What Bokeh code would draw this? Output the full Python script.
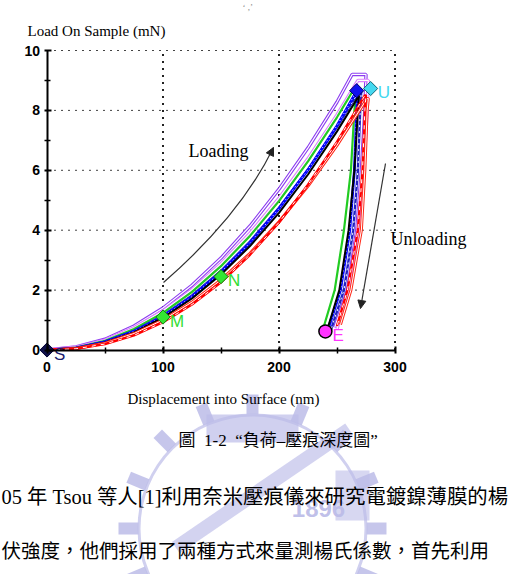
import numpy as np
from bokeh.plotting import figure
from bokeh.models import Range1d, LinearAxis, FixedTicker, Arrow, NormalHead
from bokeh.core.properties import value
from bokeh.embed import file_html
from bokeh.resources import INLINE

# ---------------- data ----------------
x_ticks = [0, 100, 200, 300]
x_minor = [50, 150, 250]
y_ticks = [0, 2, 4, 6, 8, 10]
y_minor = [1, 3, 5, 7, 9]
x_grid = [100, 200, 300]
y_grid = [2, 4, 6, 8, 10]
x_lim = (0, 300)
y_lim = (0, 10)

# load-displacement curves (loading, hold, unloading)
purple_h = [0, 25, 50, 75, 100, 125, 150, 175, 200, 225, 250, 263, 275, 274, 271, 267, 259, 248]
purple_p = [0, 0.10, 0.36, 0.80, 1.40, 2.16, 3.07, 4.14, 5.37, 6.75, 8.28, 9.20, 9.20, 8.0, 6.0, 4.0, 2.0, 0.75]
pink_h = [0, 25, 50, 75, 100, 125, 150, 175, 200, 225, 250, 268, 277, 276, 273, 268, 260, 250]
pink_p = [0, 0.09, 0.33, 0.74, 1.30, 2.01, 2.88, 3.90, 5.07, 6.39, 7.85, 9.00, 9.00, 8.0, 6.0, 4.0, 2.0, 0.70]
green_h = [0, 25, 50, 75, 100, 125, 150, 175, 200, 225, 250, 266, 267, 265, 262, 256, 248, 238]
green_p = [0, 0.08, 0.31, 0.70, 1.24, 1.94, 2.80, 3.81, 4.97, 6.30, 7.77, 8.80, 8.80, 8.0, 6.0, 4.0, 2.0, 0.70]
navy_h = [0, 25, 50, 75, 100, 125, 150, 175, 200, 225, 250, 270, 271, 270, 268, 264, 256, 245]
navy_p = [0, 0.07, 0.28, 0.64, 1.15, 1.82, 2.64, 3.62, 4.75, 6.02, 7.45, 8.70, 8.70, 8.0, 6.0, 4.0, 2.0, 0.70]
blue_h = [0, 25, 50, 75, 100, 125, 150, 175, 200, 225, 250, 267, 268, 267, 265, 261, 253, 242]
blue_p = [0, 0.06, 0.27, 0.62, 1.12, 1.78, 2.60, 3.58, 4.72, 6.02, 7.49, 8.65, 8.65, 8.0, 6.0, 4.0, 2.0, 0.65]
black_h = [0, 25, 50, 75, 100, 125, 150, 175, 200, 225, 250, 269, 269, 268, 265, 260, 252, 241]
black_p = [0, 0.06, 0.25, 0.59, 1.08, 1.72, 2.52, 3.47, 4.58, 5.86, 7.30, 8.50, 8.50, 8.0, 6.0, 4.0, 2.0, 0.60]
red2_h = [0, 25, 50, 75, 100, 125, 150, 175, 200, 225, 250, 276, 277, 276, 274, 271, 262, 253]
red2_p = [0, 0.05, 0.23, 0.55, 1.00, 1.60, 2.34, 3.23, 4.28, 5.47, 6.83, 8.40, 8.40, 8.0, 6.0, 4.0, 2.0, 0.85]
red_h = [0, 25, 50, 75, 100, 125, 150, 175, 200, 225, 250, 274, 275, 274, 272, 268, 259, 250]
red_p = [0, 0.04, 0.20, 0.49, 0.93, 1.52, 2.26, 3.18, 4.26, 5.52, 6.95, 8.50, 8.50, 8.0, 6.0, 4.0, 2.0, 0.80]

# marked points
pt_labels = ["S", "M", "N", "U", "E"]
pt_x = [0, 100, 150, 279, 240]
pt_y = [0, 1.10, 2.45, 8.73, 0.62]
peak_x = [267]
peak_y = [8.66]

# texts
y_title = "Load On Sample (mN)"
x_title = "Displacement into Surface (nm)"
loading_txt = "Loading"
unloading_txt = "Unloading"
caption = "圖\u00a0\u00a01-2\u00a0\u00a0“負荷–壓痕深度圖”"
body1 = "05 年 Tsou 等人[1]利用奈米壓痕儀來研究電鍍鎳薄膜的楊"
body2 = "伏強度，他們採用了兩種方式來量測楊氏係數，首先利用"

# ---------------- layout helpers (pixel -> data) ----------------
W, H = 513, 574
X0, SX = 46.5, 1.16
Y0, SY = 349.5, 29.95


def dx(px):
    return (px - X0) / SX


def dy(py):
    return (Y0 - py) / SY


p = figure(width=W, height=H, x_range=Range1d(dx(0), dx(W)), y_range=Range1d(dy(H), dy(0)),
           output_backend="svg", toolbar_location=None, x_axis_location=None, y_axis_location=None,
           min_border=0, outline_line_color=None, background_fill_color="white",
           border_fill_color="white")
p.grid.visible = False

# ---------------- watermark (decoration) ----------------
wm = "#bcbce8"
cx, cy = 252, 528
p.annulus(x=[dx(cx)], y=[dy(cy)], inner_radius=112, outer_radius=115,
          inner_radius_units="screen", outer_radius_units="screen", fill_color=wm, line_color=None, fill_alpha=0.7)
ang = np.deg2rad(np.arange(0, 360, 22.5))
tx = [dx(cx + 124 * np.cos(a)) for a in ang]
ty = [dy(cy - 124 * np.sin(a)) for a in ang]
p.rect(x=tx, y=ty, width=20, height=12, angle=list(ang), width_units="screen", height_units="screen",
       fill_color=wm, line_color=None, fill_alpha=0.85)
p.rect(x=[dx(252)], y=[dy(428)], width=92, height=28, width_units="screen", height_units="screen",
       fill_color=wm, line_color=None, fill_alpha=0.7)
p.rect(x=[dx(262)], y=[dy(488)], width=210, height=14, angle=[0.6], width_units="screen",
       height_units="screen", fill_color=wm, line_color=None, fill_alpha=0.65)
p.rect(x=[dx(352)], y=[dy(495)], width=34, height=50, width_units="screen", height_units="screen",
       fill_color=wm, line_color=None, fill_alpha=0.6)
p.text(x=[dx(318)], y=[dy(508)], text=["1896"], text_font=value("Liberation Sans"), text_font_style="bold",
       text_font_size="24px", text_color=wm, text_align="center", text_baseline="middle", text_alpha=0.95)

# ---------------- grid (dotted) ----------------
p.segment(x0=x_grid, y0=[y_lim[0]] * len(x_grid), x1=x_grid, y1=[y_lim[1]] * len(x_grid),
          line_color="#222222", line_width=2, line_dash="2 5")
p.segment(x0=[x_lim[0]] * len(y_grid), y0=y_grid, x1=[x_lim[1]] * len(y_grid), y1=y_grid,
          line_color="#444444", line_width=1, line_dash="2 5")

# ---------------- curves ----------------
def hollow(h, pp, color, outer=3.4, inner=1.2):
    p.line(h, pp, line_color=color, line_width=outer)
    p.line(h, pp, line_color="white", line_width=inner)


hollow(purple_h, purple_p, "#8c3cf0")
hollow(pink_h, pink_p, "#dd80ff")
p.line(green_h, green_p, line_color="#22cc22", line_width=2.2)
p.line(navy_h, navy_p, line_color="#2020c0", line_width=2.4)
p.line(navy_h, navy_p, line_color="white", line_width=1, line_dash="2 4")
p.line(blue_h, blue_p, line_color="#0000ff", line_width=2.8)
p.line(blue_h, blue_p, line_color="white", line_width=1, line_dash="1 3")
p.line(black_h, black_p, line_color="black", line_width=2)
hollow(red2_h, red2_p, "#ff2a1a", outer=3.0, inner=1.0)
p.line(red_h, red_p, line_color="#ff0000", line_width=2.4)
p.line(red_h, red_p, line_color="white", line_width=1, line_dash="4 5")

# ---------------- axes ----------------
xaxis = LinearAxis(fixed_location=0, bounds=x_lim,
                   ticker=FixedTicker(ticks=x_ticks, minor_ticks=x_minor))
yaxis = LinearAxis(fixed_location=0, bounds=y_lim,
                   ticker=FixedTicker(ticks=y_ticks, minor_ticks=y_minor))
for ax in (xaxis, yaxis):
    ax.axis_line_width = 2
    ax.axis_line_color = "black"
    ax.major_tick_line_width = 2
    ax.minor_tick_line_width = 1.5
    ax.major_tick_in = 4
    ax.major_tick_out = 3
    ax.minor_tick_in = 3
    ax.minor_tick_out = 3
    ax.major_label_text_font = "Liberation Sans"
    ax.major_label_text_font_style = "bold"
    ax.major_label_text_font_size = "14px"
    ax.major_label_text_color = "black"
xaxis.major_label_standoff = 9
yaxis.major_label_standoff = 4
p.add_layout(xaxis, "below")
p.add_layout(yaxis, "left")

# ---------------- markers ----------------
p.scatter(x=peak_x, y=peak_y, marker="square", angle=np.pi / 4, size=10,
          fill_color="#1010ee", line_color="#000066", line_width=1)
pt_colors = ["#10104a", "#33e633", "#33e633", "#44d8f0", "#ff33ff"]
p.scatter(x=pt_x[:4], y=pt_y[:4], marker="square", angle=np.pi / 4, size=10,
          fill_color=pt_colors[:4], line_color=["#000033", "#118811", "#118811", "#116677"], line_width=1)
p.scatter(x=pt_x[4:], y=pt_y[4:], marker="circle", size=13,
          fill_color=pt_colors[4:], line_color="black", line_width=1.5)
p.text(x=pt_x, y=pt_y, text=pt_labels, x_offset=7, y_offset=4,
       text_color=["#1a1a6e", "#33dd33", "#33dd33", "#44d8f0", "#ff33ff"],
       text_font=value("Liberation Sans"), text_font_size="17px", text_baseline="middle", text_align="left")

# ---------------- arrows ----------------
p.quadratic(x0=[dx(163)], y0=[dy(282)], x1=[dx(273)], y1=[dy(147)], cx=[dx(240)], cy=[dy(215)],
            line_color="#333333", line_width=1.2)
p.add_layout(Arrow(end=NormalHead(size=8, fill_color="#222222", line_color="#222222"),
                   x_start=dx(269), y_start=dy(155), x_end=dx(273), y_end=dy(147),
                   line_color="#333333", line_width=1.2))
p.add_layout(Arrow(end=NormalHead(size=8, fill_color="#222222", line_color="#222222"),
                   x_start=dx(385), y_start=dy(163), x_end=dx(360), y_end=dy(308),
                   line_color="#333333", line_width=1.2))

# ---------------- texts ----------------
serif = value("Liberation Serif")
p.text(x=[dx(27)], y=[dy(30)], text=[y_title], text_font=serif, text_font_size="15px",
       text_baseline="middle", text_align="left")
p.text(x=[dx(127)], y=[dy(398)], text=[x_title], text_font=serif, text_font_size="15px",
       text_baseline="middle", text_align="left")
p.text(x=[dx(188)], y=[dy(150)], text=[loading_txt], text_font=serif, text_font_size="18px",
       text_baseline="middle", text_align="left")
p.text(x=[dx(390)], y=[dy(238)], text=[unloading_txt], text_font=serif, text_font_size="18px",
       text_baseline="middle", text_align="left")

mixed = value("Liberation Serif, Noto Sans CJK TC")
p.text(x=[dx(178)], y=[dy(440)], text=[caption], text_font=mixed, text_font_size="17px",
       text_baseline="middle", text_align="left")
p.text(x=[dx(1)], y=[dy(496)], text=[body1], text_font=mixed, text_font_size="20.4px",
       text_baseline="middle", text_align="left")
p.text(x=[dx(1)], y=[dy(551)], text=[body2], text_font=mixed, text_font_size="19.5px",
       text_baseline="middle", text_align="left")
p.text(x=[dx(242)], y=[dy(6)], text=["‘ ,’"], text_font=serif, text_font_size="9px",
       text_color="#888888", text_baseline="middle", text_align="left")

open("out.html", "w").write(file_html(p, INLINE))
